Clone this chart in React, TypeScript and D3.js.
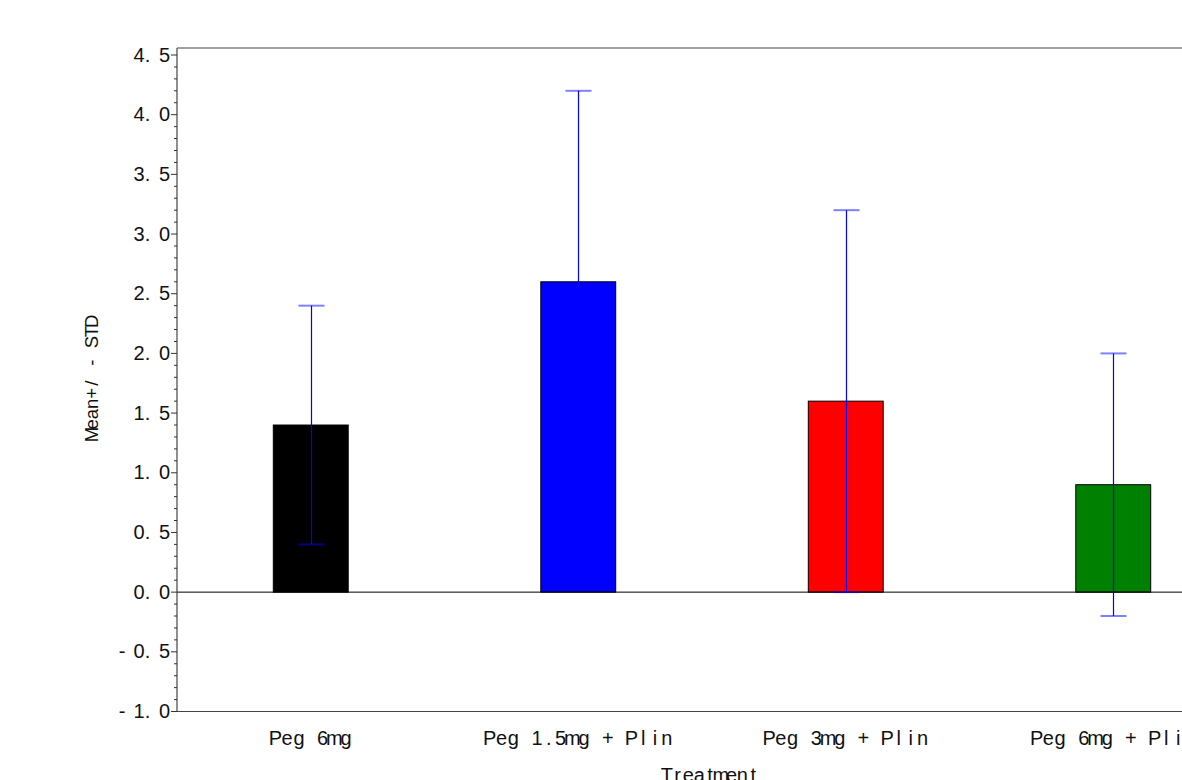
import React from "react";
import * as d3 from "d3";

// Treatment groups and their summary statistics
const categories: string[] = ["Peg 6mg", "Peg 1.5mg + Plin", "Peg 3mg + Plin", "Peg 6mg + Plin"];
const means: number[] = [1.4, 2.6, 1.6, 0.9];
const stds: number[] = [1.0, 1.6, 1.6, 1.1];
const barColors: string[] = ["#000000", "#0000ff", "#ff0000", "#008000"];

// Axis ticks
const yMajorTicks: number[] = [-1.0, -0.5, 0.0, 0.5, 1.0, 1.5, 2.0, 2.5, 3.0, 3.5, 4.0, 4.5];
const yTitle = "Mean+/ - STD";
const xTitle = "Treatment";

const W = 1182;
const H = 780;
const FONT = "'Liberation Sans', Arial, Helvetica, sans-serif";

const plotLeft = 177;
const plotRight = 1247;
const plotTop = 48;

// Lay out characters on a fixed pitch, each glyph centred in its cell
function cellXs(str: string, pitch: number, anchorX: number, anchor: "middle" | "end"): string {
  const n = str.length;
  const xs: number[] = [];
  for (let i = 0; i < n; i++) {
    if (anchor === "middle") xs.push(anchorX + (i - (n - 1) / 2) * pitch);
    else xs.push(anchorX - (n - 1 - i) * pitch);
  }
  return xs.map((v) => v.toFixed(2)).join(" ");
}

function fmtTick(v: number): string {
  const s = d3.format(".1f")(Math.abs(v) < 1e-9 ? 0 : v).replace("−", "-");
  return s.replace(".", ". ").replace("-", "- ");
}

export default function App() {
  const y = d3.scaleLinear().domain([-1, 4.5]).range([711.5, 55]);
  const x = d3.scaleBand<string>().domain(categories).range([plotLeft, plotRight]).padding(0);
  const barW = x.bandwidth() * 0.28;
  const capHalf = 13;

  const minorTicks = d3
    .range(-10, 46)
    .map((k) => k / 10)
    .filter((v) => Math.abs(Math.round(v * 2) - v * 2) > 1e-6);

  const yBottom = y(-1);

  return (
    <svg
      width={W}
      height={H}
      style={{ position: "fixed", left: 0, top: 0, background: "#fff" }}
      fontFamily={FONT}
    >
      <rect x={0} y={0} width={W} height={H} fill="#fff" />

      {/* bars */}
      {categories.map((c, i) => {
        const cx = (x(c) as number) + x.bandwidth() / 2;
        return (
          <rect
            key={"bar" + i}
            x={cx - barW / 2}
            y={y(Math.max(0, means[i]))}
            width={barW}
            height={Math.abs(y(means[i]) - y(0))}
            fill={barColors[i]}
            stroke="#000"
            strokeWidth={1}
          />
        );
      })}

      {/* zero reference line */}
      <line x1={plotLeft} x2={plotRight} y1={y(0)} y2={y(0)} stroke="#000" strokeWidth={1} />

      {/* error bars */}
      {categories.map((c, i) => {
        const cx = Math.round((x(c) as number) + x.bandwidth() / 2) + 0.5;
        const hi = y(means[i] + stds[i]);
        const lo = y(means[i] - stds[i]);
        return (
          <g key={"err" + i}>
            <line x1={cx} x2={cx} y1={hi} y2={lo} stroke="#0000ff" strokeWidth={1.2} />
            <line x1={cx - capHalf} x2={cx + capHalf} y1={hi} y2={hi} stroke="#0000ff" strokeOpacity={0.5} strokeWidth={2} />
            <line x1={cx - capHalf} x2={cx + capHalf} y1={lo} y2={lo} stroke="#0000ff" strokeOpacity={0.5} strokeWidth={2} />
          </g>
        );
      })}

      {/* frame */}
      <line x1={plotLeft} x2={plotRight} y1={plotTop} y2={plotTop} stroke="#444" strokeWidth={1.2} />
      <line x1={plotLeft} x2={plotRight} y1={yBottom} y2={yBottom} stroke="#444" strokeWidth={1.2} />
      <line x1={plotLeft} x2={plotLeft} y1={plotTop} y2={yBottom} stroke="#444" strokeWidth={1.2} />

      {/* y axis ticks */}
      {minorTicks.map((v, i) => (
        <line key={"mt" + i} x1={plotLeft - 3} x2={plotLeft} y1={y(v)} y2={y(v)} stroke="#333" strokeWidth={1} />
      ))}
      {yMajorTicks.map((v, i) => {
        const label = fmtTick(v);
        return (
          <g key={"yt" + i}>
            <line x1={plotLeft - 6} x2={plotLeft} y1={y(v)} y2={y(v)} stroke="#333" strokeWidth={1} />
            <text
              x={cellXs(label, 8.5, 164.5, "end")}
              y={y(v) + 6.5}
              fontSize={20}
              textAnchor="middle"
              fill="#111"
              style={{ whiteSpace: "pre" }}
            >
              {label}
            </text>
          </g>
        );
      })}

      {/* x axis category labels */}
      {categories.map((c, i) => {
        const cx = (x(c) as number) + x.bandwidth() / 2;
        return (
          <text
            key={"xl" + i}
            x={cellXs(c, 11.8, cx, "middle")}
            y={745}
            fontSize={20}
            textAnchor="middle"
            fill="#111"
            style={{ whiteSpace: "pre" }}
          >
            {c}
          </text>
        );
      })}

      {/* axis titles */}
      <text
        x={cellXs(xTitle, 10.8, (plotLeft + plotRight) / 2 - 2, "middle")}
        y={781.5}
        fontSize={20}
        textAnchor="middle"
        fill="#111"
      >
        {xTitle}
      </text>
      <g transform={`translate(${98},${378}) rotate(-90)`}>
        <text
          x={cellXs(yTitle, 10.3, 0, "middle")}
          y={0}
          fontSize={18.5}
          textAnchor="middle"
          fill="#111"
          style={{ whiteSpace: "pre" }}
        >
          {yTitle}
        </text>
      </g>
    </svg>
  );
}
